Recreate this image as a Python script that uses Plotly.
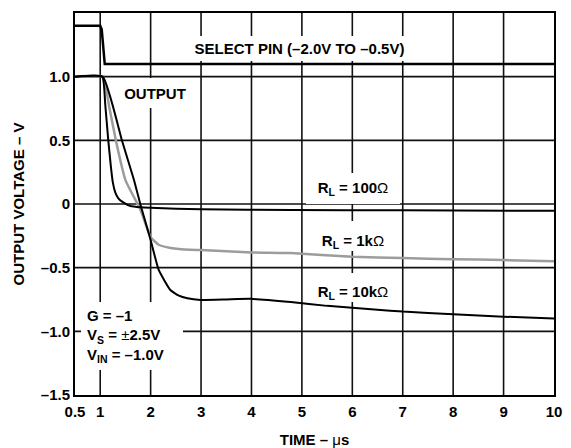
import plotly.graph_objects as go

# ---------------- data ----------------
sel_x = [0.5, 1.0, 1.03, 1.09, 10.0]
sel_y = [1.4, 1.4, 1.37, 1.1, 1.1]

r100_x = [0.5, 1.04, 1.10, 1.16, 1.21, 1.25, 1.30, 1.36, 1.45, 1.60, 1.80, 2.0, 3.0, 4.8, 7.0, 10.0]
r100_y = [1.0, 1.0, 0.78, 0.50, 0.30, 0.17, 0.09, 0.045, 0.015, -0.016, -0.026, -0.03, -0.042, -0.047, -0.05, -0.053]

r1k_x = [0.5, 1.05, 1.18, 1.31, 1.50, 1.80, 2.00, 2.16, 2.40, 2.79, 3.0, 4.0, 4.78, 6.0, 7.0, 8.0, 9.0, 10.0]
r1k_y = [1.0, 1.0, 0.76, 0.50, 0.188, -0.047, -0.26, -0.32, -0.345, -0.36, -0.362, -0.38, -0.385, -0.415, -0.425, -0.433, -0.44, -0.45]

r10k_x = [0.5, 1.05, 1.43, 1.67, 1.80, 2.0, 2.16, 2.39, 2.56, 2.73, 2.99, 3.5, 3.98, 4.78, 5.5, 6.5, 7.0, 8.0, 9.0, 10.0]
r10k_y = [1.0, 1.0, 0.50, 0.188, -0.008, -0.283, -0.518, -0.675, -0.72, -0.741, -0.754, -0.75, -0.745, -0.77, -0.80, -0.83, -0.845, -0.865, -0.885, -0.90]

x_ticks = [0.5, 1, 2, 3, 4, 5, 6, 7, 8, 9, 10]
x_ticktext = ["0.5", "1", "2", "3", "4", "5", "6", "7", "8", "9", "10"]
y_ticks = [-1.5, -1.0, -0.5, 0, 0.5, 1.0, 1.5]
y_ticktext = ["–1.5", "–1.0", "–0.5", "0", "0.5", "1.0", "1.5"]

FONT = "Liberation Sans, Arial, Helvetica, sans-serif"
FS = 15
NORM = '<span style="font-weight:normal">{}</span>'

fig = go.Figure()

# grid lines at every inner tick, referenced to the subplot axes
x_lo, x_hi = x_ticks[0], x_ticks[-1]
y_lo, y_hi = y_ticks[0], y_ticks[-1]
for xv in x_ticks[1:-1]:
    fig.add_shape(type="line", xref="x", yref="y", x0=xv, x1=xv, y0=y_lo, y1=y_hi,
                  line=dict(color="#111111", width=1.6), layer="between")
for yv in y_ticks[1:-1]:
    fig.add_shape(type="line", xref="x", yref="y", x0=x_lo, x1=x_hi, y0=yv, y1=yv,
                  line=dict(color="#111111", width=1.6), layer="between")

fig.add_trace(go.Scatter(x=sel_x, y=sel_y, mode="lines", line=dict(color="black", width=2.5), showlegend=False))
fig.add_trace(go.Scatter(x=r1k_x, y=r1k_y, mode="lines", line=dict(color="#9c9c9c", width=2.5, shape="spline", smoothing=0.4), showlegend=False))
fig.add_trace(go.Scatter(x=r100_x, y=r100_y, mode="lines", line=dict(color="black", width=2, shape="spline", smoothing=0.4), showlegend=False))
fig.add_trace(go.Scatter(x=r10k_x, y=r10k_y, mode="lines", line=dict(color="black", width=2, shape="spline", smoothing=0.4), showlegend=False))


def ann(text, x, y, w, h, align="center", valign="middle", pad=0):
    # label on a white knock-out box that interrupts the grid
    fig.add_annotation(text=text, x=x, y=y, xref="x", yref="y", showarrow=False,
                       xanchor="center", yanchor="middle", width=w, height=h,
                       align=align, valign=valign, bgcolor="white", borderpad=pad, borderwidth=0,
                       font=dict(family=FONT, size=FS, color="black", weight="bold"))


ann("SELECT PIN (–2.0V TO –0.5V)", 4.944, 1.22, 233, 25)
ann("OUTPUT", 2.077, 0.872, 72, 30)
ann("R<sub>L</sub> = 100" + NORM.format("Ω"), 6.006, 0.125, 94, 31)
ann("R<sub>L</sub> = 1k" + NORM.format("Ω"), 6.006, -0.25, 94, 30, valign="bottom")
ann("R<sub>L</sub> = 10k" + NORM.format("Ω"), 6.006, -0.655, 94, 29, valign="bottom")
ann("G = –1<br>V<sub>S</sub> = " + NORM.format("±") + "2.5V<br>V<sub>IN</sub> = –1.0V",
    1.621, -1.037, 90, 56, align="left", valign="middle", pad=6)

axis_common = dict(showline=True, mirror=True, linecolor="black", linewidth=2,
                   showgrid=False, zeroline=False,
                   ticks="", tickfont=dict(family=FONT, size=FS, color="black", weight="bold"))

fig.update_xaxes(range=[x_lo, x_hi], tickmode="array", tickvals=x_ticks, ticktext=x_ticktext,
                 ticklabelstandoff=2,
                 title=dict(text="TIME – " + NORM.format("μ") + "s", standoff=15,
                            font=dict(family=FONT, size=FS, color="black", weight="bold")),
                 **axis_common)
fig.update_yaxes(range=[y_lo, y_hi], tickmode="array", tickvals=y_ticks, ticktext=y_ticktext,
                 title=dict(text="OUTPUT VOLTAGE – V", standoff=13,
                            font=dict(family=FONT, size=FS, color="black", weight="bold")),
                 **axis_common)

# the page body adds an 8 px offset, so the figure is 8 px smaller and margins shifted
fig.update_layout(width=563, height=440, margin=dict(l=67, r=17, t=5, b=53, autoexpand=False),
                  paper_bgcolor="white", plot_bgcolor="white",
                  font=dict(family=FONT, size=FS, color="black"))

fig.write_html("out.html")
